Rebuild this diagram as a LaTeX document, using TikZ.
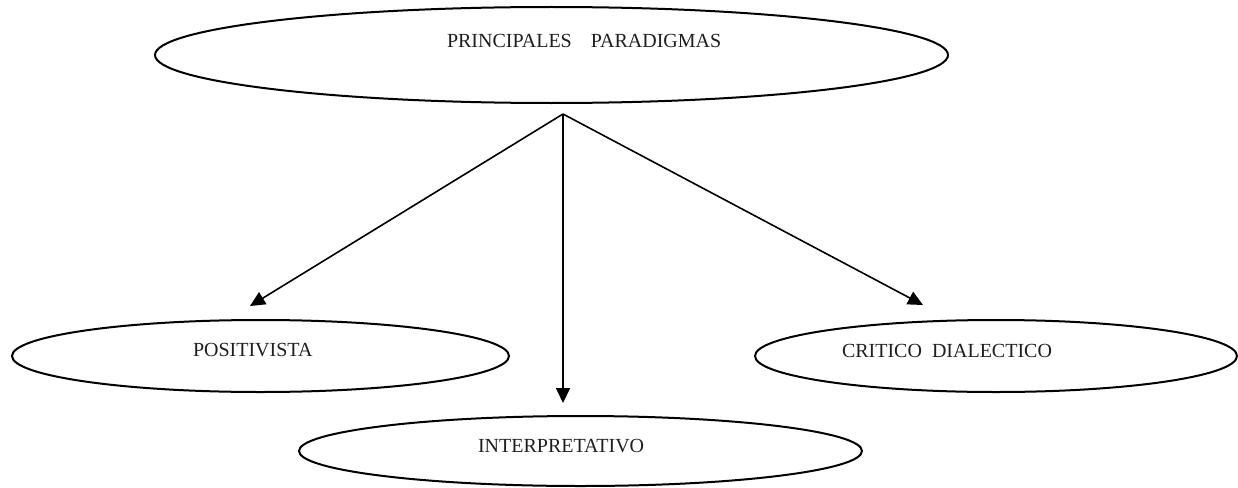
\documentclass[tikz,border=0pt]{standalone}
\usepackage{fontspec}
\setmainfont{Liberation Serif}
\usetikzlibrary{shapes.geometric,arrows.meta}
\tikzset{
  oval/.style={draw=black, ellipse, line width=2pt, inner sep=0pt, outer sep=0pt},
  lbl/.style={inner sep=0pt, outer sep=0pt, anchor=base west, font=\fontsize{20}{24}\selectfont, text=black!88},
  conn/.style={line width=1.6pt, -{Triangle[length=15pt,width=14pt]}}
}
\begin{document}
\begin{tikzpicture}[x=1pt,y=-1pt]
\useasboundingbox (0,0) rectangle (1238,487);
% ellipses
\node[oval, minimum width=793pt, minimum height=96pt] (top) at (551.5,55) {};
\node[oval, minimum width=497pt, minimum height=72pt] (pos) at (260.5,356) {};
\node[oval, minimum width=563pt, minimum height=70pt] (int) at (580.5,451) {};
\node[oval, minimum width=482pt, minimum height=72pt] (cri) at (996,356) {};
% labels
\node[lbl] (toptext) at (447,48) {PRINCIPALES\hspace{19pt}PARADIGMAS};
\node[lbl] (postext) at (193,356) {POSITIVISTA};
\node[lbl] (inttext) at (478,452) {INTERPRETATIVO};
\node[lbl] (critext) at (842,357) {CRITICO\hspace{10pt}DIALECTICO};
% connectors
\coordinate (apex) at (563,114);
\coordinate (tpos) at (250,306);
\coordinate (tint) at (563,403);
\coordinate (tcri) at (923,305);
\draw[conn] (apex) -- (tpos);
\draw[conn] (apex) -- (tint);
\draw[conn] (apex) -- (tcri);
\end{tikzpicture}
\end{document}
